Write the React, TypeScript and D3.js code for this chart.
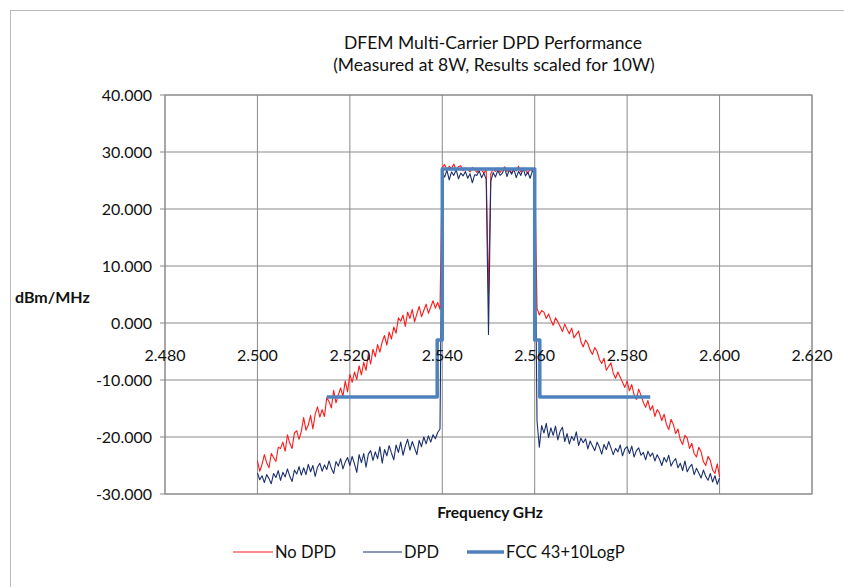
import React from 'react';
import * as d3 from 'd3';

// ---- data ----
const xTicks = [2.48, 2.5, 2.52, 2.54, 2.56, 2.58, 2.6, 2.62];
const yTicks = [-30, -20, -10, 0, 10, 20, 30, 40];

const sweepStart = 2.5; // GHz, first measured point
const sweepStep = 0.0005; // GHz between measured points

const noDpdLeft = [
  -24.2, -26.0, -24.8, -23.1, -24.5, -25.4, -22.9, -23.6, -24.3, -21.8,
  -22.0, -20.9, -22.5, -19.6, -21.1, -22.0, -19.3, -18.9, -20.4, -19.0,
  -16.6, -18.8, -17.9, -16.2, -18.6, -16.0, -14.7, -16.5, -15.2, -16.4,
  -13.1, -13.8, -14.9, -11.8, -14.0, -12.6, -11.4, -12.9, -10.2, -12.1,
  -9.0, -10.4, -8.6, -9.9, -7.5, -9.1, -6.9, -8.3, -5.4, -7.2,
  -4.6, -5.9, -3.8, -5.1, -3.3, -2.2, -3.9, -1.6, -2.8, -0.7,
  -1.8, 0.9, 0.3, 1.4, -0.6, 1.9, 0.8, 2.4, 0.2, 1.6,
  2.9, 1.1, 2.2, 3.3, 1.7, 2.8, 3.9, 2.6, 3.6, 2.4,
];
const noDpdBand = [
  27.3, 27.8, 26.9, 27.5, 27.1, 27.9, 26.8, 27.4, 27.6, 26.7,
  27.2, 27.0, 26.5, 27.3, 26.9, 26.4, 27.1, 26.8, 26.3, 26.9,
  5.0, 26.2, 27.0, 26.6, 27.2, 26.4, 26.9, 27.4, 26.6, 27.1,
  26.3, 27.0, 26.7, 27.5, 26.5, 27.2, 26.8, 26.2, 27.0, 26.6, 27.1,
];
const noDpdRight = [
  2.6, 1.4, 2.2, 1.9, 0.8, 1.6, 0.5, -0.4, 0.9, 0.2,
  -0.6, -1.5, -0.2, -1.1, -1.9, -0.9, -2.6, -2.0, -1.4, -3.3,
  -4.2, -3.0, -3.6, -4.8, -5.5, -4.3, -5.0, -6.4, -7.1, -6.2,
  -8.3, -7.6, -7.0, -8.8, -9.7, -8.6, -9.5, -10.4, -11.3, -10.2,
  -11.9, -10.8, -12.6, -13.4, -11.6, -12.7, -13.9, -14.8, -13.6, -15.3,
  -14.5, -16.4, -15.2, -15.8, -17.1, -16.0, -17.8, -18.7, -16.9, -17.8,
  -19.4, -18.6, -20.5, -21.3, -19.7, -20.2, -22.0, -21.1, -22.9, -23.5,
  -21.8, -22.6, -24.3, -25.0, -23.4, -24.1, -25.8, -26.4, -24.7, -27.0,
];

const dpdLeft = [
  -26.3, -27.5, -26.8, -28.0, -26.6, -27.3, -28.2, -26.4, -27.1, -25.9,
  -27.6, -26.2, -27.0, -25.6, -26.9, -27.8, -25.8, -26.5, -25.2, -26.7,
  -25.4, -26.6, -24.8, -26.1, -25.0, -26.9, -25.3, -24.6, -26.0, -24.9,
  -25.7, -24.2, -25.5, -26.4, -24.3, -25.1, -23.8, -25.6, -24.4, -23.6,
  -25.0, -23.4, -24.7, -26.2, -23.1, -24.5, -22.9, -25.3, -23.0, -22.4,
  -24.1, -22.6, -23.8, -21.7, -24.6, -22.2, -23.3, -21.5, -22.8, -24.0,
  -21.4, -22.7, -20.9, -23.2, -21.6, -20.4, -22.3, -20.8, -21.9, -23.1,
  -20.6, -21.7, -20.0, -21.2, -19.8, -20.9, -19.6, -20.3, -19.2, -18.6,
];
const dpdBand = [
  26.4, 25.6, 26.8, 25.1, 26.5, 25.9, 26.9, 25.3, 26.3, 25.8,
  26.6, 25.4, 26.2, 24.6, 26.0, 25.9, 26.7, 25.5, 26.3, 25.2,
  -2.0, 24.9, 26.4, 25.6, 26.8, 25.9, 26.3, 27.2, 25.7, 26.9,
  26.1, 27.0, 25.5, 26.6, 25.9, 27.1, 25.8, 26.5, 25.4, 26.7, 26.3,
];
const dpdRight = [
  -17.2, -21.8, -18.0, -19.3, -17.6, -20.1, -18.4, -19.7, -18.1, -20.5,
  -19.0, -18.3, -20.8, -19.4, -21.2, -19.9, -20.6, -19.1, -21.5, -20.2,
  -21.0, -20.3, -22.1, -20.7, -21.6, -22.4, -20.9, -21.8, -23.0, -21.3,
  -22.2, -20.8, -21.9, -23.1, -22.0, -22.6, -21.4, -23.3, -22.1, -21.7,
  -22.9, -21.6, -23.5, -22.4, -21.9, -23.2, -22.7, -24.0, -22.5, -23.4,
  -22.8, -24.2, -23.1, -23.9, -25.0, -23.6, -24.4, -23.2, -25.1, -24.3,
  -23.8, -25.4, -24.6, -25.9, -24.2, -26.1, -25.3, -24.8, -26.6, -25.5,
  -26.3, -27.2, -25.8, -26.9, -27.6, -26.4, -27.9, -26.8, -28.3, -27.2,
];

const fccFreq = [2.515, 2.5389, 2.5389, 2.54, 2.54, 2.56, 2.56, 2.5611, 2.5611, 2.585];
const fccLevel = [-13, -13, -3, -3, 27, 27, -3, -3, -13, -13];

const titleLines = ['DFEM Multi-Carrier DPD Performance', '(Measured at 8W, Results scaled for 10W)'];
const legendLabels = ['No DPD', 'DPD', 'FCC 43+10LogP'];

const FONT = 'Lato, "Open Sans", sans-serif';

const fmt3 = (v: number) => v.toFixed(3);

export default function App() {
  const W = 844;
  const H = 587;
  const x = d3.scaleLinear().domain([2.48, 2.62]).range([165, 812]);
  const y = d3.scaleLinear().domain([-30, 40]).range([494, 95]);

  const noDpd = [...noDpdLeft, ...noDpdBand, ...noDpdRight];
  const dpd = [...dpdLeft, ...dpdBand, ...dpdRight];
  const freqs = noDpd.map((_, i) => sweepStart + i * sweepStep);

  const line = d3
    .line<[number, number]>()
    .x((d) => x(d[0]))
    .y((d) => y(d[1]));

  const noDpdPath = line(freqs.map((f, i) => [f, noDpd[i]]) as [number, number][]) || '';
  const dpdPath = line(freqs.map((f, i) => [f, dpd[i]]) as [number, number][]) || '';
  const fccPath = line(fccFreq.map((f, i) => [f, fccLevel[i]]) as [number, number][]) || '';

  const [x0, x1] = x.range();
  const [yb, yt] = y.range();
  const grid = '#8a8a8a';

  const legendItems = [
    { label: legendLabels[0], color: '#ff1a1a', width: 1.2, lx: 233, tx: 275 },
    { label: legendLabels[1], color: '#1b2f6e', width: 1.2, lx: 363, tx: 404 },
    { label: legendLabels[2], color: '#4f81bd', width: 3.5, lx: 467, tx: 506 },
  ];

  return (
    <svg
      width={W}
      height={H}
      style={{ position: 'absolute', left: 0, top: 0, background: '#fff' }}
      fontFamily={FONT}
    >
      <rect x={0} y={0} width={W} height={H} fill="#fff" />
      <rect x={10.5} y={10.5} width={900} height={700} fill="none" stroke="#b8b8b8" strokeWidth={1} />

      {/* gridlines */}
      {xTicks.map((t) => (
        <line key={'gx' + t} x1={x(t)} x2={x(t)} y1={yt} y2={yb} stroke={grid} strokeWidth={1} />
      ))}
      {yTicks.map((t) => (
        <line key={'gy' + t} x1={x0} x2={x1} y1={y(t)} y2={y(t)} stroke={grid} strokeWidth={1} />
      ))}
      {yTicks.map((t) => (
        <line key={'ty' + t} x1={x0 - 5} x2={x0} y1={y(t)} y2={y(t)} stroke={grid} strokeWidth={1} />
      ))}
      <rect x={x0} y={yt} width={x1 - x0} height={yb - yt} fill="none" stroke={grid} strokeWidth={1} />

      {/* series */}
      <path d={noDpdPath} fill="none" stroke="#ff1a1a" strokeWidth={1.1} strokeLinejoin="round" />
      <path d={dpdPath} fill="none" stroke="#1b2f6e" strokeWidth={1.1} strokeLinejoin="round" />
      <path d={fccPath} fill="none" stroke="#4f81bd" strokeWidth={3.5} strokeLinejoin="round" />

      {/* y tick labels */}
      {yTicks.map((t) => (
        <text key={'yl' + t} x={152} y={y(t)} dy="0.36em" textAnchor="end" fontSize={16} fill="#111">
          {fmt3(t)}
        </text>
      ))}
      {/* x tick labels (axis crosses at 0) */}
      {xTicks.map((t) => (
        <text key={'xl' + t} x={x(t)} y={y(0) + 32} dy="0.36em" textAnchor="middle" fontSize={16} fill="#111">
          {fmt3(t)}
        </text>
      ))}

      {/* titles */}
      <text x={493} y={49} textAnchor="middle" fontSize={17.5} fill="#111">
        {titleLines[0]}
      </text>
      <text x={494} y={71} textAnchor="middle" fontSize={17.5} fill="#111">
        {titleLines[1]}
      </text>
      <text x={15} y={297} dy="0.36em" fontSize={16} fontWeight="bold" fill="#111">
        dBm/MHz
      </text>
      <text x={490} y={512} dy="0.36em" textAnchor="middle" fontSize={15.5} fontWeight="bold" fill="#111">
        Frequency GHz
      </text>

      {/* legend */}
      {legendItems.map((it) => (
        <g key={it.label}>
          <line x1={it.lx} x2={it.tx - 2} y1={552} y2={552} stroke={it.color} strokeWidth={it.width} />
          <text x={it.tx} y={552} dy="0.36em" fontSize={16.5} fill="#111">
            {it.label}
          </text>
        </g>
      ))}
    </svg>
  );
}
